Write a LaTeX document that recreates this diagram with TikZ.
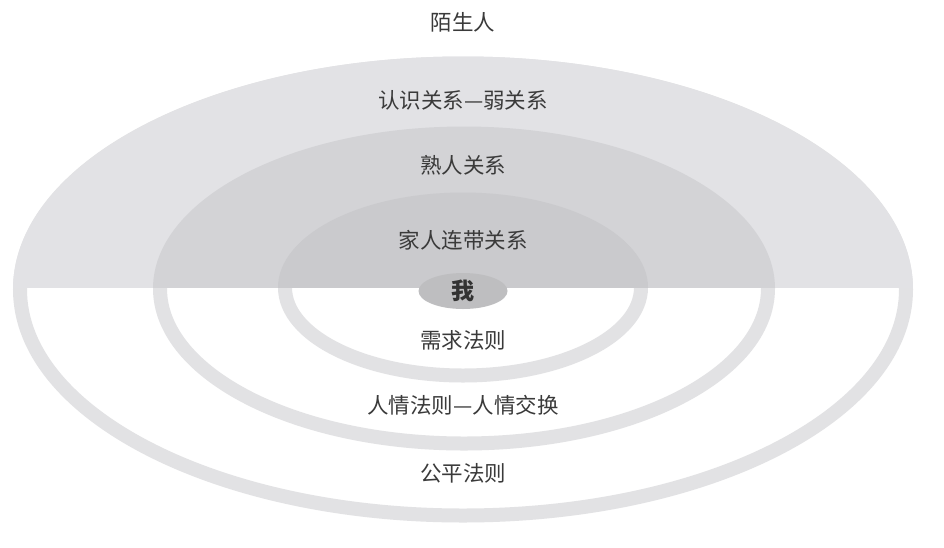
\documentclass[tikz,border=0pt]{standalone}
\usepackage{fontspec}
\newfontfamily\cjk{Noto Sans CJK SC}
\usetikzlibrary{shapes.geometric}
\definecolor{ringgray}{HTML}{E2E2E4}
\definecolor{outerfill}{HTML}{E2E2E5}
\definecolor{midfill}{HTML}{D3D3D6}
\definecolor{innerfill}{HTML}{CACACD}
\definecolor{mefill}{HTML}{BEBEC0}
\definecolor{txt}{HTML}{3A3A3A}
\tikzset{
  ring/.style={draw=ringgray, line width=14pt},
  lbl/.style={font=\cjk\fontsize{21.5}{24}\selectfont, text=txt, inner sep=0pt},
  me/.style={ellipse, fill=mefill, minimum width=89pt, minimum height=36pt, inner sep=0pt,
             font=\cjk\bfseries\fontsize{23}{26}\selectfont, text=black!80}
}
\begin{document}
\begin{tikzpicture}[x=1pt,y=-1pt]
\useasboundingbox (0,0) rectangle (944,547);
\fill[white] (0,0) rectangle (944,547);
% rings (visible in the lower half)
\draw[ring] (463,289.5) ellipse [x radius=443, y radius=226];
\draw[ring] (464,288.5) ellipse [x radius=304, y radius=155];
\draw[ring] (463,287.5) ellipse [x radius=178, y radius=88];
% filled upper halves
\begin{scope}
\clip (0,0) rectangle (944,287);
\fill[outerfill] (463,289.5) ellipse [x radius=450, y radius=233];
\fill[midfill] (464,288.5) ellipse [x radius=311, y radius=162];
\fill[innerfill] (463,287.5) ellipse [x radius=185, y radius=95];
\end{scope}
% labels
\node[lbl] (stranger) at (463,22) {陌生人};
\node[lbl] (weak) at (463,100) {认识关系—弱关系};
\node[lbl] (acq) at (463,165) {熟人关系};
\node[lbl] (family) at (463,240) {家人连带关系};
\node[me] (self) at (463,291) {我};
\node[lbl] (need) at (463,340) {需求法则};
\node[lbl] (renqing) at (463,405) {人情法则—人情交换};
\node[lbl] (fair) at (463,473) {公平法则};
\end{tikzpicture}
\end{document}
